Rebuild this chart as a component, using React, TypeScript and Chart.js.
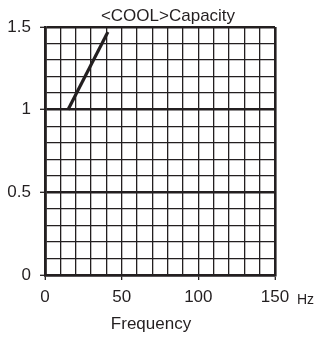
import React, { useEffect, useRef } from "react";
import { Chart, registerables } from "chart.js";

Chart.register(...registerables);

const titleText = "<COOL>Capacity";
const xAxisTitle = "Frequency";
const xUnit = "Hz";
const frequency = [15, 41];
const capacity = [1.0, 1.47];
const xMin = 0;
const xMax = 150;
const yMin = 0;
const yMax = 1.5;

const INK = "#231f20";
const FONT = "'Liberation Sans', Arial, sans-serif";

const isMajorX = (v: number) => Math.abs(v / 50 - Math.round(v / 50)) < 1e-6;
const isMajorY = (v: number) => Math.abs(v * 2 - Math.round(v * 2)) < 1e-6;

const textPlugin = {
  id: "extraText",
  afterDraw(chart: any) {
    const { ctx, chartArea } = chart;
    ctx.save();
    ctx.fillStyle = INK;
    ctx.textAlign = "center";
    ctx.textBaseline = "alphabetic";
    ctx.font = `17px ${FONT}`;
    ctx.fillText(titleText, chartArea.left + 123, chartArea.top - 6);
    ctx.fillText(xAxisTitle, chartArea.left + 106, chartArea.bottom + 54);
    ctx.textAlign = "left";
    ctx.font = `14px ${FONT}`;
    ctx.fillText(xUnit, chartArea.right + 22, chartArea.bottom + 29);
    ctx.restore();
  },
};

export default function App() {
  const ref = useRef<HTMLCanvasElement>(null);
  useEffect(() => {
    if (!ref.current) return;
    const chart = new Chart(ref.current, {
      type: "scatter",
      data: {
        datasets: [
          {
            data: frequency.map((x, i) => ({ x, y: capacity[i] })),
            showLine: true,
            borderColor: INK,
            borderWidth: 3.2,
            pointRadius: 0,
            borderCapStyle: "butt",
          },
        ],
      },
      options: {
        animation: false,
        responsive: false,
        devicePixelRatio: 1,
        layout: { padding: { top: 27, right: 45, left: 0, bottom: 0 } },
        plugins: {
          legend: { display: false },
          tooltip: { enabled: false },
          title: { display: false },
        },
        scales: {
          x: {
            type: "linear",
            min: xMin,
            max: xMax,
            afterFit: (s: any) => {
              s.height = 63;
            },
            ticks: {
              stepSize: 10,
              autoSkip: false,
              maxRotation: 0,
              padding: 7,
              color: INK,
              font: { family: FONT, size: 17 },
              callback: (v: any) => (isMajorX(Number(v)) ? String(v) : ""),
            },
            grid: {
              color: INK,
              lineWidth: (c: any) =>
                c.tick && (c.tick.value === xMax || c.tick.value === xMin) ? 2.6 : 1.3,
              drawTicks: true,
              tickLength: 5,
              tickWidth: 1.3,
              tickColor: (c: any) =>
                c.tick && isMajorX(c.tick.value) ? INK : "rgba(0,0,0,0)",
            },
            border: { display: true, color: INK, width: 2.6 },
          },
          y: {
            type: "linear",
            min: yMin,
            max: yMax,
            afterFit: (s: any) => {
              s.width = 45;
            },
            ticks: {
              stepSize: 0.1,
              autoSkip: false,
              padding: 9,
              color: INK,
              font: { family: FONT, size: 17 },
              callback: (v: any) => {
                const n = Number(v);
                return isMajorY(n) ? String(Math.round(n * 10) / 10) : "";
              },
            },
            grid: {
              color: INK,
              lineWidth: (c: any) =>
                c.tick && isMajorY(c.tick.value) ? 2.6 : 1.3,
              drawTicks: true,
              tickLength: 5,
              tickWidth: 1.3,
              tickColor: (c: any) =>
                c.tick && isMajorY(c.tick.value) ? INK : "rgba(0,0,0,0)",
            },
            border: { display: true, color: INK, width: 2.6 },
          },
        },
      },
      plugins: [textPlugin],
    } as any);
    return () => chart.destroy();
  }, []);
  return (
    <div style={{ position: "absolute", left: 0, top: 0, width: 320, height: 338, background: "#fff" }}>
      <canvas ref={ref} width={320} height={338} style={{ width: 320, height: 338 }} />
    </div>
  );
}
